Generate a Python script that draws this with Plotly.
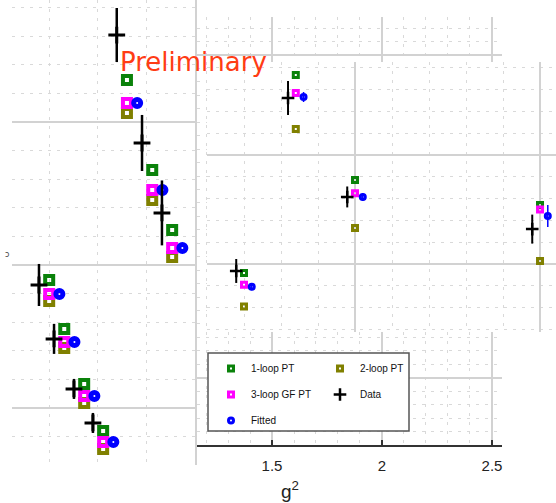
import plotly.graph_objects as go

# ---------------- data ----------------
# Left (zoomed) panel
a_g2 = [1.860, 1.912, 1.953, 1.700, 1.731, 1.772, 1.811]
a_data = [1.1608, 1.0853, 1.0364, 0.9860, 0.9483, 0.9133, 0.8895]
a_data_err = [0.0189, 0.0196, 0.0227, 0.0147, 0.0105, 0.0070, 0.0070]
a_loop1 = [1.1294, 1.0664, 1.0245, 0.9895, 0.9552, 0.9168, 0.8839]
a_loop3gf = [1.1133, 1.0524, 1.0119, 0.9797, 0.9462, 0.9084, 0.8762]
a_fitted = [1.1133, 1.0524, 1.0119, 0.9797, 0.9462, 0.9084, 0.8762]
a_loop2 = [1.1063, 1.0455, 1.0056, 0.9748, 0.9420, 0.9035, 0.8713]

# Middle panel
c_g2 = [1.70, 1.84, 2.00, 2.50]
c_data = [0.8936, 1.0523, 0.9615, 0.9320]
c_data_err = [0.0110, 0.0156, 0.0096, 0.0133]
c_loop1 = [0.8917, 1.0734, 0.9770, 0.9540]
c_loop3gf = [0.8810, 1.0569, 0.9650, 0.9500]
c_fitted = [0.8790, 1.0532, 0.9615, 0.9440]
c_fitted_err = [0.0030, 0.0046, 0.0037, 0.0100]
c_loop2 = [0.8610, 1.0239, 0.9330, 0.9028]

x_ticks = [1.5, 2.0, 2.5]
x_ticklabels = ["1.5", "2", "2.5"]

names = ["1-loop PT", "2-loop PT", "3-loop GF PT", "Data", "Fitted"]
DX_DATA = -0.021
DX_FIT = 0.021

GREEN = "#0a820a"
OLIVE = "#808000"
MAGENTA = "#ff00ff"
BLUE = "#0000ff"
BLACK = "#000000"

W, H = 556, 503
def fx(px):
    return px / W
def fy(py):
    return 1 - py / H

fig = go.Figure()

# empty trace so that the main (g^2) subplot is drawn
fig.add_trace(go.Scatter(x=[None], y=[None], xaxis="x", yaxis="y", mode="markers",
                         showlegend=False, hoverinfo="skip"))

def add_panel(xs, loop1, loop2, loop3, fit, fit_err, data, data_err, xa, ya, big, legend):
    sq = 8 if big else 5
    sqw = 4 if big else 3
    cs = 7 if big else 5
    cw = 5 if big else 3
    d_size = 12 if big else 9
    d_w = 3 if big else 2.5
    e_t = 2.5 if big else 2
    xd = [x + DX_DATA for x in xs]
    xf = [x + DX_FIT for x in xs]
    common = dict(xaxis=xa, yaxis=ya, mode="markers")
    fig.add_trace(go.Scatter(x=xs, y=loop2, name=names[1],
                             marker=dict(symbol="square-open", size=sq, color=OLIVE, line=dict(width=sqw)),
                             showlegend=legend, legend="legend2", legendgroup="b1", **common))
    fig.add_trace(go.Scatter(x=xs, y=loop1, name=names[0],
                             marker=dict(symbol="square-open", size=sq, color=GREEN, line=dict(width=sqw)),
                             showlegend=legend, legend="legend", legendgroup="a1", **common))
    fig.add_trace(go.Scatter(x=xs, y=loop3, name=names[2],
                             marker=dict(symbol="square-open", size=sq, color=MAGENTA, line=dict(width=sqw)),
                             showlegend=legend, legend="legend", legendgroup="a2", **common))
    fig.add_trace(go.Scatter(x=xf, y=fit, name=names[4],
                             marker=dict(symbol="circle-open", size=cs, color=BLUE, line=dict(width=cw)),
                             error_y=dict(type="data", array=fit_err, visible=fit_err is not None,
                                          color=BLUE, thickness=1.5, width=0),
                             showlegend=legend, legend="legend", legendgroup="a3", **common))
    fig.add_trace(go.Scatter(x=xd, y=data, name=names[3],
                             marker=dict(symbol="cross-thin", size=d_size, color=BLACK,
                                         line=dict(width=d_w, color=BLACK)),
                             error_y=dict(type="data", array=data_err, visible=True,
                                          color=BLACK, thickness=e_t, width=0),
                             showlegend=legend, legend="legend2", legendgroup="b2", **common))

add_panel(a_g2, a_loop1, a_loop2, a_loop3gf, a_fitted, None, a_data, a_data_err, "x2", "y2", True, False)
add_panel(c_g2, c_loop1, c_loop2, c_loop3gf, c_fitted, c_fitted_err, c_data, c_data_err, "x3", "y3", False, True)

MAJ = "#d2d2d2"
MIN = "#d9d9d9"
DOT = "3px,6px"

def minor(dt, t0=0):
    return dict(dtick=dt, tick0=t0, showgrid=True, gridcolor=MIN, gridwidth=1, griddash=DOT, ticks="")

LEGFONT = dict(family="Liberation Sans, Arial, sans-serif", size=10, color="#111")

fig.update_layout(
    width=W, height=H, margin=dict(l=0, r=0, t=0, b=0),
    paper_bgcolor="white", plot_bgcolor="white",
    # main panel (x axis with g^2)
    xaxis=dict(domain=[fx(197), fx(502)], range=[1.1591, 2.5455], tickmode="array",
               tickvals=x_ticks, ticktext=x_ticklabels, showgrid=True, gridcolor=MAJ, gridwidth=1.5,
               minor=minor(0.1), ticks="inside", ticklen=5, tickcolor="#333", tickwidth=1.5,
               ticklabelstandoff=6,
               showline=True, linecolor="#333", linewidth=1.5, zeroline=False, anchor="y",
               tickfont=dict(family="Liberation Sans, Arial, sans-serif", size=15, color="#222")),
    yaxis=dict(domain=[fy(445), fy(17)], range=[0, 31.83], tickmode="array", tickvals=[5, 29],
               showgrid=True, gridcolor=MAJ, gridwidth=1.5, minor=minor(1), showticklabels=False,
               zeroline=False, ticks="", anchor="x"),
    # left zoomed panel
    xaxis2=dict(domain=[fx(12), fx(195)], range=[1.6235, 2.0], dtick=0.5, tick0=0,
                showgrid=True, gridcolor=MAJ, gridwidth=2, minor=minor(0.1), showticklabels=False,
                zeroline=False, ticks="", anchor="y2"),
    yaxis2=dict(domain=[fy(465), fy(0)], range=[0.8601, 1.1853], dtick=0.1, tick0=0,
                showgrid=True, gridcolor=MAJ, gridwidth=2, minor=minor(0.02), showticklabels=False,
                zeroline=False, ticks="", anchor="x2", side="right", showline=True,
                linecolor=MAJ, linewidth=2),
    # middle panel
    xaxis3=dict(domain=[fx(207), 1.0], range=[1.6, 2.5432], dtick=0.5, tick0=0,
                showgrid=True, gridcolor=MAJ, gridwidth=2, minor=minor(0.1), showticklabels=False,
                zeroline=False, ticks="", anchor="y3"),
    yaxis3=dict(domain=[fy(332), fy(62)], range=[0.8376, 1.0853], dtick=0.1, tick0=0,
                showgrid=True, gridcolor=MAJ, gridwidth=2, minor=minor(0.02), showticklabels=False,
                zeroline=False, ticks="", anchor="x3"),
    legend=dict(x=fx(211), y=fy(354), xanchor="left", yanchor="top", bgcolor="rgba(0,0,0,0)",
                borderwidth=0, tracegroupgap=7, traceorder="grouped", font=LEGFONT),
    legend2=dict(x=fx(320), y=fy(354), xanchor="left", yanchor="top", bgcolor="rgba(0,0,0,0)",
                 borderwidth=0, tracegroupgap=7, traceorder="grouped", font=LEGFONT),
    shapes=[dict(type="rect", xref="paper", yref="paper", x0=fx(208), x1=fx(409), y0=fy(431), y1=fy(353),
                 line=dict(color="#555", width=1.5), fillcolor="white", layer="above")],
    annotations=[
        dict(text="Preliminary", xref="paper", yref="paper", x=fx(193), y=fy(62), showarrow=False,
             xanchor="center", yanchor="middle",
             font=dict(family="DejaVu Sans, sans-serif", size=26, color="#ff3c14")),
        dict(text="g<sup>2</sup>", xref="paper", yref="paper", x=fx(290), y=fy(490), showarrow=False,
             xanchor="center", yanchor="middle",
             font=dict(family="Liberation Sans, Arial, sans-serif", size=19, color="#222")),
        dict(text="ɔ", xref="paper", yref="paper", x=fx(7), y=fy(254), showarrow=False,
             xanchor="center", yanchor="middle",
             font=dict(family="DejaVu Sans, sans-serif", size=8, color="#444")),
    ],
)

fig.write_html("out.html", config={"displayModeBar": False},
               post_script="document.body.style.margin='0';document.body.style.padding='0';")
